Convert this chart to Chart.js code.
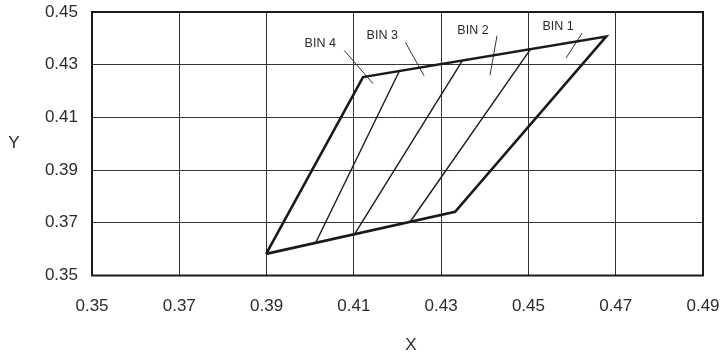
<!DOCTYPE html>
<html>
<head>
<meta charset="utf-8">
<script src="https://cdn.jsdelivr.net/npm/chart.js"></script>
<style>
  body { margin: 0; background: #fff; }
  canvas { display: block; }
</style>
</head>
<body>
<canvas id="myChart" width="721" height="360"></canvas>
<script>
// axis ticks
const xTicks = [0.35, 0.37, 0.39, 0.41, 0.43, 0.45, 0.47, 0.49]
const yTicks = [0.35, 0.37, 0.39, 0.41, 0.43, 0.45]

// outer boundary of the region (closed)
const outlineX = [0.3899, 0.4332, 0.4678, 0.4121, 0.3899]
const outlineY = [0.3582, 0.3742, 0.4407, 0.4253, 0.3582]

// bin dividers: bottom point -> top point
const dividerBottomX = [0.4013, 0.4102, 0.4229]
const dividerBottomY = [0.3626, 0.3658, 0.3704]
const dividerTopX = [0.4204, 0.4348, 0.4504]
const dividerTopY = [0.4275, 0.4314, 0.4357]

// bin labels and their leader lines
const binNames = ['BIN 4', 'BIN 3', 'BIN 2', 'BIN 1']
const binLabelX = [0.4023, 0.4165, 0.4373, 0.4568]
const binLabelY = [0.4380, 0.4410, 0.4430, 0.4445]
const leaderStartX = [0.4078, 0.4218, 0.4428, 0.4623]
const leaderStartY = [0.4354, 0.4385, 0.4410, 0.4420]
const leaderEndX = [0.4144, 0.4261, 0.4412, 0.4586]
const leaderEndY = [0.4228, 0.4258, 0.4260, 0.4325]

const ink = '#1a1a1a'
const textColor = '#2b2b2b'
const fontFamily = '"Liberation Sans", Arial, Helvetica, sans-serif'

const datasets = []

datasets.push({
  data: outlineX.map((x, i) => ({ x, y: outlineY[i] })),
  borderColor: ink,
  borderWidth: 2.6,
  borderJoinStyle: 'miter'
})

dividerBottomX.forEach((x, i) => {
  datasets.push({
    data: [{ x, y: dividerBottomY[i] }, { x: dividerTopX[i], y: dividerTopY[i] }],
    borderColor: ink,
    borderWidth: 1.4
  })
})

leaderStartX.forEach((x, i) => {
  datasets.push({
    data: [{ x, y: leaderStartY[i] }, { x: leaderEndX[i], y: leaderEndY[i] }],
    borderColor: '#333',
    borderWidth: 1
  })
})

datasets.forEach(d => {
  d.showLine = true
  d.pointRadius = 0
  d.fill = false
  d.tension = 0
})

// plot frame, axis titles and bin labels
const extras = {
  id: 'extras',
  beforeDatasetsDraw(chart) {
    const { ctx, chartArea: a } = chart
    ctx.save()
    ctx.strokeStyle = ink
    ctx.lineWidth = 2
    ctx.strokeRect(a.left, a.top, a.right - a.left, a.bottom - a.top)
    ctx.restore()
  },
  afterDraw(chart) {
    const { ctx, scales } = chart
    ctx.save()
    ctx.fillStyle = textColor
    ctx.textAlign = 'center'
    ctx.textBaseline = 'middle'
    ctx.font = `17px ${fontFamily}`
    ctx.fillText('Y', 14, 143)
    ctx.fillText('X', 411, 345)
    ctx.font = `12.5px ${fontFamily}`
    binNames.forEach((name, i) => {
      ctx.fillText(name, scales.x.getPixelForValue(binLabelX[i]), scales.y.getPixelForValue(binLabelY[i]))
    })
    ctx.restore()
  }
}

// keep the plot area fixed, labels may overhang the edges
function noPadding(scale) {
  scale.paddingLeft = 0
  scale.paddingRight = 0
  scale.paddingTop = 0
  scale.paddingBottom = 0
}

const ctx = document.getElementById('myChart').getContext('2d')

const myChart = new Chart(ctx, {
  type: 'scatter',
  data: { datasets },
  plugins: [extras],
  options: {
    responsive: false,
    animation: false,
    layout: { padding: { left: 0, right: 18, top: 12, bottom: 0 } },
    plugins: { legend: { display: false }, tooltip: { enabled: false } },
    scales: {
      x: {
        type: 'linear',
        min: 0.35,
        max: 0.49,
        afterBuildTicks: scale => { scale.ticks = xTicks.map(value => ({ value })) },
        afterFit: scale => { scale.height = 84.5; noPadding(scale) },
        grid: { color: '#333', lineWidth: 1, drawTicks: false },
        border: { display: false },
        ticks: {
          padding: 21,
          color: textColor,
          font: { family: fontFamily, size: 17 },
          maxRotation: 0,
          callback: v => v.toFixed(2)
        }
      },
      y: {
        type: 'linear',
        min: 0.35,
        max: 0.45,
        afterBuildTicks: scale => { scale.ticks = yTicks.map(value => ({ value })) },
        afterFit: scale => { scale.width = 92; noPadding(scale) },
        grid: { color: '#333', lineWidth: 1, drawTicks: false },
        border: { display: false },
        ticks: {
          padding: 14,
          color: textColor,
          font: { family: fontFamily, size: 17 },
          callback: v => v.toFixed(2)
        }
      }
    }
  }
})
</script>
</body>
</html>
